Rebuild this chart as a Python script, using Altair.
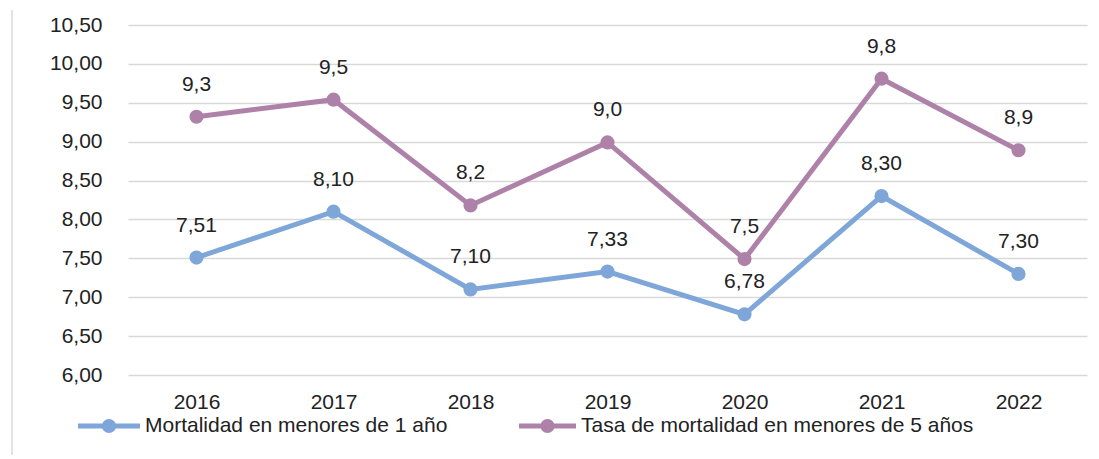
import altair as alt
import pandas as pd

years = ["2016", "2017", "2018", "2019", "2020", "2021", "2022"]
series = ["Mortalidad en menores de 1 año", "Tasa de mortalidad en menores de 5 años"]
menores_1 = [7.51, 8.10, 7.10, 7.33, 6.78, 8.30, 7.30]
menores_5 = [9.32, 9.54, 8.18, 8.99, 7.49, 9.81, 8.89]
colors = ["#7EA6D8", "#AE82A8"]
y_ticks = [6.0, 6.5, 7.0, 7.5, 8.0, 8.5, 9.0, 9.5, 10.0, 10.5]

rows = []
for y, a, b in zip(years, menores_1, menores_5):
    rows.append({"year": y, "serie": series[0], "value": a})
    rows.append({"year": y, "serie": series[1], "value": b})
df = pd.DataFrame(rows)

FONT = "Liberation Sans"
TXT = "#222222"
FS = 21

x_enc = alt.X("year:O", sort=years,
              scale=alt.Scale(type="point", padding=0.5),
              axis=alt.Axis(title=None, labelAngle=0, ticks=False, domain=False,
                            grid=False, labelFontSize=FS, labelFont=FONT,
                            labelColor=TXT, labelPadding=16))
y_enc = alt.Y("value:Q",
              scale=alt.Scale(domain=[6, 10.5], nice=False, zero=False),
              axis=alt.Axis(title=None, values=y_ticks, format=".2f", ticks=False,
                            domain=False, grid=True, gridColor="#d9d9d9",
                            gridWidth=1.5, labelFontSize=FS, labelFont=FONT,
                            labelColor=TXT, labelPadding=26))
color_scale = alt.Scale(domain=series, range=colors)

base = alt.Chart(df).encode(x=x_enc, y=y_enc)

lines = base.mark_line(strokeWidth=5).encode(
    color=alt.Color("serie:N", scale=color_scale, legend=None)
)
points = base.mark_point(filled=True, size=200, opacity=1).encode(
    color=alt.Color("serie:N", scale=color_scale, legend=None)
)
labels1 = base.transform_filter(alt.datum.serie == series[0]).mark_text(
    dy=-32, fontSize=FS, font=FONT, color=TXT, baseline="middle"
).encode(text=alt.Text("value:Q", format=".2f"))
labels2 = base.transform_filter(alt.datum.serie == series[1]).mark_text(
    dy=-32, fontSize=FS, font=FONT, color=TXT, baseline="middle"
).encode(text=alt.Text("value:Q", format=".1f"))

# hand-built legend (line + dot + label) under the x axis
LEG_Y = 401
leg_starts = [-50, 391]
leg_len = [62, 57]
legend_layers = []
for name, col, x0, ln in zip(series, colors, leg_starts, leg_len):
    ldf = pd.DataFrame({"serie": [name]})
    legend_layers.append(
        alt.Chart(ldf).mark_rule(color=col, strokeWidth=5, strokeCap="butt").encode(
            x=alt.value(x0), x2=alt.value(x0 + ln), y=alt.value(LEG_Y))
    )
    legend_layers.append(
        alt.Chart(ldf).mark_point(filled=True, size=200, opacity=1, color=col).encode(
            x=alt.value(x0 + ln / 2), y=alt.value(LEG_Y))
    )
    legend_layers.append(
        alt.Chart(ldf).mark_text(align="left", baseline="middle", fontSize=FS,
                                 font=FONT, color=TXT).encode(
            x=alt.value(x0 + ln + 5), y=alt.value(LEG_Y), text="serie:N")
    )

border = alt.Chart(pd.DataFrame({"a": [0]})).mark_rule(
    color="#d9d9d9", strokeWidth=1.5
).encode(x=alt.value(-116), y=alt.value(-15), y2=alt.value(445))

chart = alt.layer(border, lines, points, labels1, labels2, *legend_layers).properties(
    width=959, height=350,
    autosize=alt.AutoSizeParams(type="none"),
    padding={"left": 120, "top": 17, "right": 4, "bottom": 80},
).configure(
    view=alt.ViewConfig(stroke=None),
    locale={"number": {"decimal": ",", "thousands": ".", "grouping": [3],
                       "currency": ["", ""]}}
)

chart.save("out.html", embed_options={"renderer": "svg", "actions": False})
